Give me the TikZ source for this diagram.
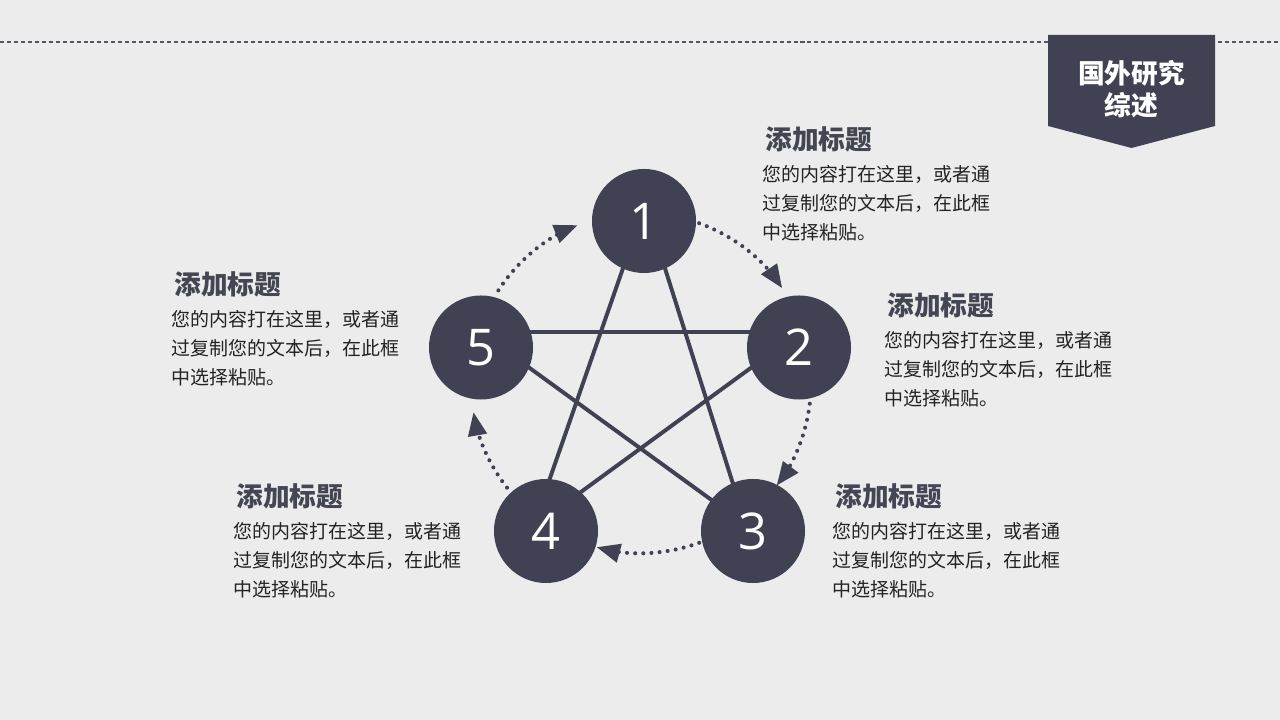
\documentclass[tikz,border=0pt]{standalone}
\usepackage{fontspec}
\setmainfont{Noto Sans CJK SC}
\newfontfamily\numfont{Open Sans}
\usepackage{tikz}
\usetikzlibrary{shapes.geometric, arrows}
\definecolor{slate}{RGB}{64,66,83}
\definecolor{paper}{RGB}{236,236,236}
\definecolor{ink}{RGB}{35,35,35}
\definecolor{headcol}{RGB}{68,70,84}
\tikzstyle{ball} = [circle, minimum size=2.6cm, inner sep=0pt, fill=slate, text=white, font=\numfont\fontsize{36}{36}\selectfont]
\tikzstyle{heading} = [anchor=west, inner sep=0pt, text=headcol, font=\bfseries\fontsize{19}{19}\selectfont]
\tikzstyle{body} = [anchor=north west, inner sep=0pt, align=left, text=ink, font=\fontsize{13.5}{20.6}\selectfont]
\tikzstyle{link} = [line width=2.8pt, draw=slate]
\tikzstyle{dotarrow} = [line width=2.9pt, draw=slate, line cap=round, dash pattern=on 0pt off 5.8pt, ->, >=triangle 45]
\tikzstyle{badgetext} = [align=center, inner sep=0pt, text=white, font=\bfseries\fontsize{19}{22.8}\selectfont]

\begin{document}
\begin{tikzpicture}[x=0.025cm, y=0.025cm]
		\useasboundingbox (0,0) rectangle (1280,720);
		\fill[paper] (-10,-10) rectangle (1290,730);
		\draw[slate!90, line width=1pt, dash pattern=on 2.85pt off 2.1pt] (0,678) -- (1280,678);

		\fill[slate] (1048,685) -- (1215,685) -- (1215,594) -- (1131.5,572) -- (1048,594) -- cycle;
		\node (badge) [badgetext] at (1131.5,631) {国外研究\\综述};

		\coordinate (st1) at (645,515);
		\coordinate (st2) at (800,388);
		\coordinate (st3) at (746,195);
		\coordinate (st4) at (533,193);
		\coordinate (st5) at (480,388);
		\draw [link] (st1) -- (st3) -- (st5) -- (st2) -- (st4) -- cycle;

		\node (circ1) [ball] at (644,499) {1};
		\node (circ2) [ball] at (799,372.5) {2};
		\node (circ3) [ball] at (753,189) {3};
		\node (circ4) [ball] at (546,189) {4};
		\node (circ5) [ball] at (481,372.5) {5};

		\coordinate (mid) at (641,337);
		\draw [dotarrow] ([shift={(70:4.25cm)}]mid) arc[start angle=70, end angle=34, radius=4.25cm];
		\draw [dotarrow] ([shift={(-7:4.25cm)}]mid) arc[start angle=-7, end angle=-37, radius=4.25cm];
		\draw [dotarrow] ([shift={(-70:4.25cm)}]mid) arc[start angle=-70, end angle=-105, radius=4.25cm];
		\draw [dotarrow] ([shift={(218:4.25cm)}]mid) arc[start angle=218, end angle=190, radius=4.25cm];
		\draw [dotarrow] ([shift={(147:4.25cm)}]mid) arc[start angle=147, end angle=112, radius=4.25cm];

		\node (title1) [heading] at (765,581) {添加标题};
		\node (text1) [body] at (762,555) {您的内容打在这里，或者通\\过复制您的文本后，在此框\\中选择粘贴。};
		\node (title2) [heading] at (887,415) {添加标题};
		\node (text2) [body] at (884,389) {您的内容打在这里，或者通\\过复制您的文本后，在此框\\中选择粘贴。};
		\node (title3) [heading] at (835,224) {添加标题};
		\node (text3) [body] at (832,198) {您的内容打在这里，或者通\\过复制您的文本后，在此框\\中选择粘贴。};
		\node (title4) [heading] at (236,224) {添加标题};
		\node (text4) [body] at (233,198) {您的内容打在这里，或者通\\过复制您的文本后，在此框\\中选择粘贴。};
		\node (title5) [heading] at (174,436) {添加标题};
		\node (text5) [body] at (171,410) {您的内容打在这里，或者通\\过复制您的文本后，在此框\\中选择粘贴。};
	\end{tikzpicture}
\end{document}
